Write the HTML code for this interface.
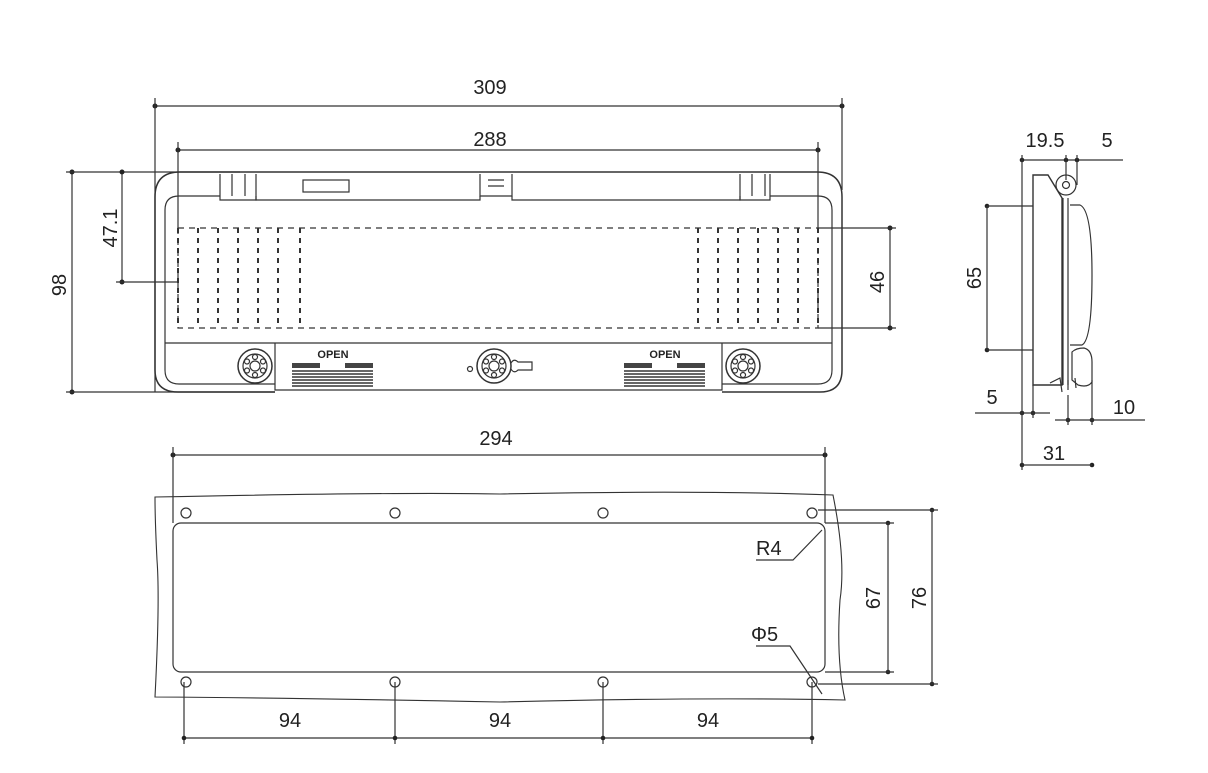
<!DOCTYPE html>
<html><head><meta charset="utf-8"><style>
html,body{margin:0;padding:0;background:#fff;width:1208px;height:773px;overflow:hidden}
svg text{font-family:"Liberation Sans",sans-serif;fill:#222}
</style></head><body>
<svg width="1208" height="773" viewBox="0 0 1208 773" xmlns="http://www.w3.org/2000/svg" fill="none" stroke="#333" stroke-width="1.2">
<defs>
<marker id="d" viewBox="0 0 6 6" refX="3" refY="3" markerWidth="5" markerHeight="5"><circle cx="3" cy="3" r="2.5" fill="#222" stroke="none"/></marker>
<g id="knob">
<circle r="17" stroke-width="1.5"/><circle r="12"/><circle r="5"/>
<circle cx="0" cy="-9" r="2.5"/><circle cx="8" cy="-4.5" r="2.5"/><circle cx="8" cy="4.5" r="2.5"/><circle cx="0" cy="9" r="2.5"/><circle cx="-8" cy="4.5" r="2.5"/><circle cx="-8" cy="-4.5" r="2.5"/>
</g>
<g id="hatch" stroke-width="2">
<rect x="0" y="0" width="28" height="5" fill="#444" stroke="none"/><rect x="53" y="0" width="28" height="5" fill="#444" stroke="none"/>
<path d="M0 8H81M0 11H81M0 14H81M0 17H81M0 20H81M0 23H81" stroke-width="1.6"/>
</g>
</defs>
<!-- FRONT VIEW dims -->
<g font-size="20" stroke="none"><text x="490" y="94" text-anchor="middle" fill="#222">309</text>
<text x="490" y="146" text-anchor="middle">288</text>
<text x="66" y="285" text-anchor="middle" transform="rotate(-90 66 285)" dy="0">98</text>
<text x="117" y="228" text-anchor="middle" transform="rotate(-90 117 228)">47.1</text>
<text x="884" y="282" text-anchor="middle" transform="rotate(-90 884 282)">46</text></g>
<path d="M155 106H842" marker-start="url(#d)" marker-end="url(#d)"/>
<path d="M155 98V392M842 98V190"/>
<path d="M178 150H818" marker-start="url(#d)" marker-end="url(#d)"/>
<path d="M178 142V228M818 142V228"/>
<path d="M72 172V392" marker-start="url(#d)" marker-end="url(#d)"/>
<path d="M66 172H240M66 392H275"/>
<path d="M122 172V282" marker-start="url(#d)" marker-end="url(#d)"/>
<path d="M116 282H178"/>
<path d="M890 228V328" marker-start="url(#d)" marker-end="url(#d)"/>
<path d="M818 228H896M818 328H896"/>
<!-- front body -->
<path d="M180 172H817Q842 172 842 197V370Q842 392 820 392H722M275 392H178Q155 392 155 370V197Q155 172 180 172" stroke-width="1.5"/>
<path d="M178 196H220M256 196V200H480V196M512 196V200H740V196M770 196H818Q832 196 832 210V370Q832 384 818 384H722M275 384H179Q165 384 165 370V210Q165 196 179 196"/>
<path d="M220 174V200H256V174M232 174V196M245 174V196M480 174V196H512V174M488 180H504M488 186H504M740 174V200H770V174M752 174V196M765 174V196"/>
<rect x="303" y="180" width="46" height="12"/>
<path d="M165 343H832"/>
<path d="M275 343V390H722V343"/>
<rect x="178" y="228" width="640" height="100" stroke-dasharray="6 5"/>
<g stroke-dasharray="5 5" stroke-width="2">
<path d="M178 228V328M300 228V328M198 228V328M218 228V328M238 228V328M258 228V328M278 228V328"/>
<path d="M698 228V328M818 228V328M718 228V328M738 228V328M758 228V328M778 228V328M798 228V328"/>
</g>
<use href="#knob" x="255" y="366"/><use href="#knob" x="494" y="366"/><use href="#knob" x="743" y="366"/>
<path d="M511 363Q514 358 518 362H532V370H518Q514 374 511 369"/>
<circle cx="470" cy="369" r="2.5"/>
<g font-size="11" font-weight="bold" stroke="none"><text x="333" y="358" text-anchor="middle">OPEN</text><text x="665" y="358" text-anchor="middle">OPEN</text></g>
<use href="#hatch" x="292" y="363"/><use href="#hatch" x="624" y="363"/>
<!-- SIDE VIEW -->
<g font-size="20" stroke="none"><text x="1045" y="147" text-anchor="middle">19.5</text><text x="1107" y="147" text-anchor="middle">5</text>
<text x="981" y="278" text-anchor="middle" transform="rotate(-90 981 278)">65</text>
<text x="992" y="404" text-anchor="middle">5</text><text x="1124" y="414" text-anchor="middle">10</text><text x="1054" y="460" text-anchor="middle">31</text></g>
<path d="M1022 160H1123"/>
<g fill="#222" stroke="none"><circle cx="1022" cy="160" r="2.3"/><circle cx="1066" cy="160" r="2.3"/><circle cx="1077" cy="160" r="2.3"/>
<circle cx="987" cy="206" r="2.3"/><circle cx="987" cy="350" r="2.3"/><circle cx="1022" cy="413" r="2.3"/><circle cx="1033" cy="413" r="2.3"/>
<circle cx="1068" cy="420" r="2.3"/><circle cx="1092" cy="420" r="2.3"/><circle cx="1022" cy="465" r="2.3"/><circle cx="1092" cy="465" r="2.3"/></g>
<path d="M1022 155V470M1066 155V180M1077 155V185"/>
<path d="M987 206V350M987 206H1033M987 350H1033"/>
<path d="M975 413H1050M1033 385V418"/>
<path d="M1055 420H1145M1068 395V425M1092 380V425"/>
<path d="M1022 465H1092"/>
<path d="M1033 175H1048L1062 198V385H1033Z" stroke-width="1.4"/>
<circle cx="1066" cy="185" r="10"/><circle cx="1066" cy="185" r="3.5"/>
<path d="M1063 198V385M1068 198V385"/>
<path d="M1070 205H1080Q1092 210 1092 275Q1092 340 1082 345H1070"/>
<path d="M1072 352Q1076 348 1084 348Q1092 350 1092 362V382Q1088 388 1078 385L1072 380Z"/>
<path d="M1050 383L1060 378L1062 392M1068 380V390M1075 378L1076 388"/>
<!-- BOTTOM VIEW -->
<g font-size="20" stroke="none"><text x="496" y="445" text-anchor="middle">294</text>
<text x="290" y="727" text-anchor="middle">94</text><text x="500" y="727" text-anchor="middle">94</text><text x="708" y="727" text-anchor="middle">94</text>
<text x="880" y="598" text-anchor="middle" transform="rotate(-90 880 598)">67</text>
<text x="926" y="598" text-anchor="middle" transform="rotate(-90 926 598)">76</text>
<text x="756" y="555">R4</text><text x="751" y="641">Φ5</text></g>
<path d="M173 455H825" marker-start="url(#d)" marker-end="url(#d)"/>
<path d="M173 447V523M825 447V523"/>
<path d="M155 497Q400 492 500 494Q700 490 833 495Q846 560 840 600Q836 660 845 700Q700 697 500 702Q300 698 155 697Q160 600 157 560Q155 520 155 497Z" stroke-width="1.1"/>
<rect x="173" y="523" width="652" height="149" rx="8"/>
<g><circle cx="186" cy="513" r="5"/><circle cx="395" cy="513" r="5"/><circle cx="603" cy="513" r="5"/><circle cx="812" cy="513" r="5"/>
<circle cx="186" cy="682" r="5"/><circle cx="395" cy="682" r="5"/><circle cx="603" cy="682" r="5"/><circle cx="812" cy="682" r="5"/></g>
<path d="M184 682V744M395 682V744M603 682V744M812 682V744"/>
<path d="M184 738H812"/>
<g fill="#222" stroke="none"><circle cx="184" cy="738" r="2.3"/><circle cx="395" cy="738" r="2.3"/><circle cx="603" cy="738" r="2.3"/><circle cx="812" cy="738" r="2.3"/>
<circle cx="888" cy="523" r="2.3"/><circle cx="888" cy="672" r="2.3"/><circle cx="932" cy="510" r="2.3"/><circle cx="932" cy="684" r="2.3"/></g>
<path d="M888 523V672M825 523H894M825 672H894"/>
<path d="M932 510V684M818 510H938M818 684H938"/>
<path d="M756 560H793L822 530"/>
<path d="M756 646H790L822 694"/>
</svg>
</body></html>
